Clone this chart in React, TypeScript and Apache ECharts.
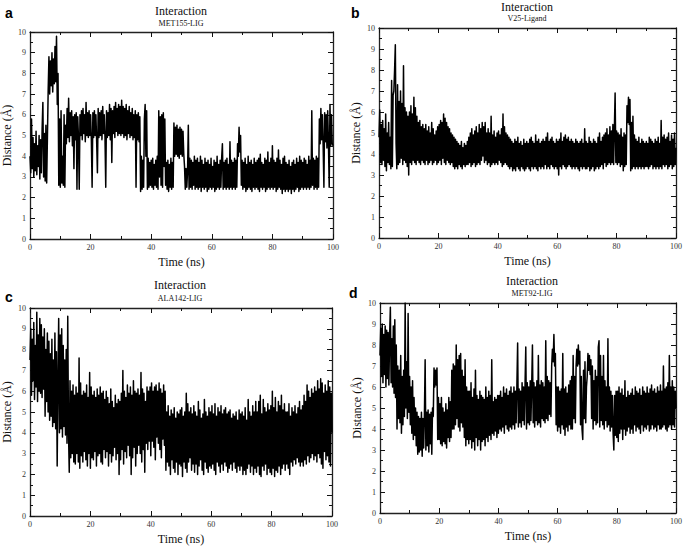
import React, { useEffect, useRef } from "react";
import * as echarts from "echarts";

const timeStep = 0.25;

const met155 = [
  4.0, 3.2, 5.8, 3.4, 4.9, 3.0, 4.6, 3.3, 5.2, 3.1, 4.5, 3.5, 5.0, 2.9, 4.8, 3.2, 5.3, 6.6, 3.0, 5.1,
  2.8, 5.5, 2.7, 4.9, 7.2, 8.8, 7.0, 8.6, 7.4, 9.0, 7.1, 8.7, 7.5, 9.3, 7.6, 9.8, 6.5, 8.0, 2.6, 5.8,
  2.5, 6.2, 2.7, 4.0, 2.6, 6.0, 2.5, 5.5, 4.6, 6.3, 4.9, 6.8, 4.7, 6.1, 5.0, 6.2, 4.5, 5.9, 3.4, 6.0,
  4.8, 6.1, 2.4, 5.9, 4.9, 2.4, 6.0, 5.0, 6.2, 4.8, 6.3, 5.1, 6.0, 4.7, 6.6, 5.0, 6.1, 4.9, 6.2, 5.0,
  6.0, 4.8, 2.5, 6.1, 4.9, 6.2, 5.0, 6.0, 4.7, 3.2, 6.3, 4.9, 6.1, 5.0, 6.2, 4.8, 6.4, 5.1, 6.0, 4.9,
  2.5, 6.2, 4.9, 6.1, 5.0, 6.5, 4.8, 6.3, 3.7, 6.2, 5.1, 6.4, 4.9, 6.6, 5.2, 6.3, 5.0, 6.5, 5.1, 6.4,
  5.0, 6.7, 5.1, 6.4, 4.9, 6.3, 5.0, 6.5, 4.8, 6.2, 5.1, 6.4, 4.9, 6.1, 5.0, 6.3, 4.8, 6.0, 4.9, 6.2,
  2.5, 6.0, 4.8, 6.1, 4.7, 5.9, 2.3, 4.0, 2.4, 3.8, 2.5, 5.8, 6.5, 4.0, 6.2, 2.4, 3.9, 2.5, 3.7, 2.6,
  3.8, 2.5, 3.9, 2.4, 3.6, 2.6, 3.8, 2.5, 4.0, 2.4, 6.2, 3.0, 5.9, 2.6, 6.0, 2.5, 6.1, 3.5, 5.8, 2.6,
  3.7, 2.4, 3.8, 2.3, 3.6, 2.5, 3.9, 2.4, 3.7, 2.5, 5.6, 4.0, 5.4, 4.1, 5.5, 4.0, 5.3, 3.9, 5.4, 4.1,
  5.3, 4.0, 5.2, 4.1, 3.5, 2.4, 3.4, 2.5, 3.3, 5.5, 2.4, 3.9, 2.5, 3.8, 2.4, 3.7, 2.6, 4.0, 2.4, 3.8,
  2.5, 3.9, 2.4, 3.7, 2.5, 4.0, 2.3, 3.8, 2.5, 3.6, 2.4, 3.9, 2.5, 3.7, 2.3, 3.8, 2.4, 3.6, 2.5, 3.9,
  2.4, 3.5, 2.5, 3.8, 2.3, 3.7, 2.4, 4.0, 2.5, 3.6, 2.4, 3.8, 2.5, 3.9, 4.6, 2.4, 3.7, 2.5, 3.8, 2.4,
  3.9, 2.5, 3.6, 2.4, 4.7, 2.5, 3.8, 2.4, 3.7, 2.5, 3.9, 2.4, 3.8, 2.5, 4.6, 4.0, 5.4, 4.2, 5.0, 2.6,
  3.8, 2.4, 3.7, 2.5, 3.9, 2.3, 3.6, 2.4, 4.0, 2.5, 3.7, 2.4, 3.8, 2.3, 3.6, 2.5, 3.9, 2.4, 3.7, 2.5,
  3.8, 2.4, 3.9, 2.3, 4.1, 2.5, 3.7, 2.4, 3.6, 2.5, 3.9, 2.3, 3.8, 2.4, 4.2, 2.5, 3.7, 2.4, 3.9, 2.5,
  4.5, 2.4, 3.8, 2.5, 3.7, 2.3, 3.9, 2.4, 4.3, 2.5, 3.8, 2.4, 3.6, 2.2, 3.9, 2.4, 4.0, 2.3, 3.7, 2.4,
  3.6, 2.3, 3.8, 2.4, 3.5, 2.2, 3.7, 2.4, 3.8, 2.3, 3.6, 2.4, 3.9, 2.5, 3.7, 2.3, 4.0, 2.4, 3.8, 2.5,
  3.7, 2.4, 3.9, 2.5, 3.8, 2.4, 3.6, 2.5, 4.0, 2.4, 3.8, 2.5, 6.2, 2.6, 3.9, 2.4, 3.8, 2.5, 4.0, 2.4,
  3.9, 2.5, 5.8, 4.6, 6.3, 4.8, 6.0, 4.5, 2.5, 6.1, 4.7, 6.0, 4.4, 6.2, 4.6, 2.5, 6.5, 4.5, 6.0, 4.6,
  4.5,
];

const v25 = [
  4.8, 6.1, 3.6, 5.4, 3.5, 5.6, 3.7, 5.2, 3.4, 5.9, 3.2, 5.0, 3.6, 5.5, 3.5, 4.8, 3.3, 7.5, 3.4, 6.8,
  7.0, 8.0, 9.2, 4.5, 3.3, 7.3, 3.5, 6.5, 3.6, 7.0, 3.8, 6.4, 3.5, 8.2, 3.7, 6.2, 3.6, 6.0, 3.4, 5.8,
  3.0, 6.0, 3.6, 6.3, 3.5, 5.9, 3.7, 6.7, 3.6, 6.2, 3.5, 5.8, 3.7, 5.5, 3.6, 5.6, 3.5, 5.3, 3.7, 5.4,
  3.6, 5.2, 3.5, 5.4, 3.7, 5.1, 3.5, 5.3, 3.6, 5.0, 3.7, 5.5, 3.5, 5.2, 3.6, 4.9, 3.7, 5.1, 3.5, 5.3,
  3.6, 5.4, 3.7, 5.6, 3.5, 5.5, 3.8, 5.9, 3.6, 5.7, 3.5, 5.5, 3.7, 5.3, 3.6, 5.2, 3.5, 5.0, 3.6, 4.9,
  3.4, 4.8, 3.3, 4.7, 3.4, 4.6, 3.3, 4.5, 3.5, 4.4, 3.4, 4.6, 3.3, 4.3, 3.5, 4.5, 3.4, 4.4, 3.5, 4.6,
  3.5, 4.8, 3.6, 5.0, 3.4, 5.2, 3.5, 4.9, 3.6, 5.1, 3.4, 5.3, 3.5, 5.0, 3.6, 5.4, 3.5, 5.2, 3.7, 5.5,
  3.9, 5.3, 3.6, 5.5, 3.7, 5.0, 3.5, 5.2, 3.6, 5.0, 3.4, 5.8, 3.5, 4.9, 3.6, 5.1, 3.5, 4.8, 3.6, 5.0,
  3.5, 5.1, 3.7, 4.9, 3.6, 5.2, 3.4, 5.9, 3.5, 5.3, 3.6, 5.0, 3.5, 4.9, 3.4, 4.8, 3.3, 4.7, 3.4, 4.6,
  3.2, 4.5, 3.3, 4.7, 3.2, 4.6, 3.4, 4.8, 3.3, 4.5, 3.2, 4.6, 3.4, 4.4, 3.3, 4.7, 3.2, 4.5, 3.3, 4.6,
  3.4, 4.5, 3.3, 4.7, 3.2, 4.8, 3.4, 4.6, 3.3, 4.5, 3.4, 4.9, 3.3, 4.6, 3.2, 4.7, 3.4, 4.5, 3.3, 4.6,
  3.4, 4.7, 3.3, 4.6, 3.5, 4.8, 3.3, 5.0, 3.4, 4.6, 3.3, 4.7, 3.5, 4.8, 3.4, 4.6, 3.3, 4.5, 3.4, 4.7,
  3.3, 4.6, 3.0, 4.7, 3.4, 5.0, 3.3, 4.6, 3.5, 4.8, 3.4, 4.9, 3.3, 4.7, 3.4, 4.8, 3.5, 4.6, 3.4, 4.7,
  3.3, 4.6, 3.4, 4.5, 3.3, 4.7, 3.4, 4.6, 3.3, 4.5, 3.2, 4.6, 3.4, 4.7, 3.3, 4.5, 3.4, 5.2, 3.3, 4.6,
  3.3, 4.5, 3.4, 4.8, 3.2, 4.6, 3.3, 4.5, 3.4, 4.7, 3.2, 4.6, 3.3, 4.5, 3.4, 4.8, 3.3, 5.0, 3.4, 4.6,
  3.5, 4.8, 3.3, 4.9, 3.6, 5.0, 3.4, 5.2, 3.5, 4.9, 3.6, 5.3, 3.5, 5.1, 3.6, 5.4, 3.5, 5.2, 6.9, 3.6,
  5.1, 3.5, 5.0, 3.6, 4.9, 3.4, 5.2, 3.5, 4.8, 3.2, 5.0, 3.4, 4.9, 3.5, 6.3, 5.5, 6.7, 5.4, 6.6, 3.2,
  5.5, 3.3, 5.8, 3.4, 4.9, 3.3, 4.7, 3.4, 4.6, 3.3, 4.8, 3.4, 4.5, 3.3, 4.7, 3.4, 4.6, 3.3, 4.5, 3.4,
  4.6, 3.4, 4.5, 3.3, 4.8, 3.4, 4.7, 3.5, 4.6, 3.3, 4.5, 3.4, 4.7, 3.3, 4.6, 3.4, 4.8, 3.3, 4.5, 3.4,
  5.6, 3.3, 4.8, 3.5, 4.9, 3.4, 4.7, 3.5, 4.8, 3.3, 5.0, 3.4, 4.6, 3.5, 4.9, 3.3, 4.7, 3.4, 5.0, 3.5,
  4.3,
];

const ala142 = [
  7.5, 9.0, 5.8, 8.5, 6.5, 9.3, 5.6, 8.2, 6.2, 9.8, 5.5, 8.7, 6.0, 9.5, 5.9, 9.2, 5.7, 8.6, 6.1, 9.0,
  4.8, 8.0, 5.5, 8.8, 5.0, 8.4, 4.6, 7.8, 4.8, 8.5, 4.3, 7.5, 4.5, 8.8, 4.2, 7.9, 2.4, 6.5, 9.5, 4.0,
  8.7, 4.2, 9.0, 3.8, 8.2, 4.3, 7.5, 3.9, 8.0, 3.5, 9.6, 4.0, 2.1, 6.5, 2.8, 6.0, 3.0, 6.3, 2.6, 5.8,
  2.5, 6.2, 3.0, 5.9, 2.6, 7.6, 2.3, 6.4, 2.9, 5.8, 2.6, 6.0, 3.1, 5.9, 2.7, 6.3, 2.4, 5.7, 3.0, 6.9,
  2.3, 6.2, 2.8, 5.8, 2.7, 6.0, 3.1, 5.7, 2.4, 6.1, 2.9, 5.8, 3.0, 6.2, 2.6, 5.9, 2.5, 6.0, 3.2, 5.6,
  2.8, 6.0, 3.1, 5.7, 2.4, 5.4, 3.0, 6.1, 2.6, 5.5, 2.9, 5.2, 3.3, 5.8, 2.7, 5.4, 3.0, 5.6, 2.0, 5.5,
  2.7, 5.9, 3.2, 7.0, 2.5, 6.0, 3.1, 5.7, 2.8, 6.3, 3.4, 5.9, 2.9, 6.2, 2.0, 5.8, 2.8, 6.5, 3.3, 6.0,
  2.4, 5.9, 3.0, 6.1, 3.4, 5.8, 3.0, 6.9, 2.6, 6.1, 3.2, 5.9, 2.1, 5.5, 3.5, 6.2, 3.2, 6.0, 3.6, 6.2,
  2.9, 6.4, 3.6, 6.0, 3.3, 6.2, 2.7, 6.3, 3.8, 6.0, 3.5, 6.4, 3.2, 6.1, 2.8, 5.9, 3.7, 6.3, 3.4, 6.0,
  2.2, 5.0, 2.6, 5.3, 2.4, 4.8, 2.0, 5.1, 2.7, 4.9, 2.3, 5.2, 2.1, 4.7, 2.6, 5.0, 2.0, 4.9, 2.5, 5.1,
  2.4, 5.2, 1.9, 4.8, 2.6, 5.0, 2.3, 5.9, 2.1, 5.4, 2.6, 5.0, 2.8, 5.2, 2.2, 4.9, 2.5, 5.3, 2.1, 5.0,
  2.5, 4.8, 2.0, 5.5, 2.4, 5.1, 2.7, 4.7, 2.2, 4.9, 2.0, 5.6, 2.6, 5.0, 2.3, 4.8, 2.1, 5.2, 2.4, 5.0,
  2.3, 5.3, 2.5, 4.9, 2.2, 5.4, 2.0, 4.8, 2.6, 5.2, 2.4, 5.0, 2.1, 5.3, 2.5, 4.9, 2.2, 5.1, 2.6, 5.2,
  2.4, 4.9, 2.1, 5.0, 2.3, 5.1, 2.5, 4.7, 2.2, 4.9, 2.6, 4.8, 2.3, 5.0, 2.1, 4.6, 2.4, 5.1, 2.2, 4.9,
  2.4, 5.0, 2.0, 4.8, 2.2, 5.2, 2.0, 4.6, 2.3, 5.6, 2.5, 5.0, 2.1, 4.8, 2.4, 5.3, 2.0, 5.0, 2.3, 5.5,
  2.1, 5.0, 2.4, 5.5, 2.0, 5.8, 1.9, 4.9, 2.4, 5.6, 2.2, 5.2, 2.5, 5.0, 2.0, 5.4, 2.3, 5.1, 2.1, 5.3,
  2.0, 6.0, 2.3, 5.2, 1.9, 5.7, 2.2, 5.0, 2.1, 5.5, 2.4, 5.3, 2.0, 5.8, 2.3, 5.1, 2.5, 5.4, 2.2, 5.0,
  2.5, 5.0, 2.3, 5.4, 2.0, 4.8, 2.6, 5.2, 2.4, 5.0, 2.7, 5.3, 2.5, 4.9, 2.8, 5.2, 2.6, 5.5, 2.4, 5.1,
  2.6, 5.3, 2.4, 5.8, 2.7, 5.5, 2.5, 6.3, 2.9, 6.0, 2.6, 5.7, 2.8, 6.1, 3.0, 5.9, 2.7, 6.2, 2.9, 6.0,
  2.6, 6.5, 3.0, 6.1, 2.8, 6.6, 2.5, 6.4, 2.3, 5.9, 3.1, 6.3, 2.7, 6.0, 2.9, 6.5, 2.6, 6.2, 2.4, 5.9,
  4.0,
];

const met92 = [
  7.5, 8.8, 6.5, 9.0, 6.2, 8.5, 6.6, 8.9, 6.0, 8.7, 6.4, 8.6, 6.1, 8.4, 9.8, 6.2, 8.3, 6.0, 8.9, 5.7,
  9.2, 5.5, 8.0, 4.0, 7.0, 4.5, 6.8, 4.3, 7.5, 3.8, 6.5, 4.2, 6.8, 4.6, 10.0, 5.0, 7.2, 4.5, 9.5, 4.8,
  6.5, 4.2, 6.0, 3.8, 6.3, 3.5, 5.5, 3.7, 5.0, 3.2, 4.8, 2.8, 4.6, 2.9, 4.5, 3.0, 4.8, 2.7, 4.5, 3.1,
  4.6, 7.3, 3.0, 4.8, 3.2, 4.9, 2.9, 4.7, 3.3, 4.8, 2.8, 5.0, 4.6, 6.9, 6.0, 6.8, 6.1, 6.9, 3.5, 5.5,
  3.5, 5.2, 3.3, 5.5, 3.2, 5.0, 3.4, 4.8, 3.3, 5.2, 3.1, 4.9, 3.6, 5.5, 3.4, 5.3, 3.6, 6.8, 4.0, 7.1,
  4.0, 7.0, 4.2, 8.0, 4.5, 7.3, 4.1, 7.5, 3.9, 7.6, 4.3, 6.8, 4.1, 6.5, 3.6, 7.3, 3.2, 6.0, 3.5, 5.8,
  3.3, 5.8, 3.5, 6.2, 3.1, 5.5, 3.4, 5.9, 3.0, 6.8, 3.6, 5.6, 3.2, 5.4, 3.5, 5.8, 3.0, 5.6, 3.4, 5.5,
  3.5, 5.4, 3.2, 6.0, 3.6, 5.5, 3.4, 5.8, 3.7, 5.6, 3.5, 7.3, 3.8, 5.3, 3.7, 5.5, 3.9, 5.4, 3.6, 5.6,
  3.8, 5.6, 4.0, 5.8, 3.9, 5.5, 4.1, 6.0, 3.8, 5.7, 4.2, 5.9, 4.0, 5.6, 3.9, 5.8, 4.1, 6.0, 4.0, 5.7,
  4.2, 6.0, 4.0, 5.8, 4.3, 6.1, 8.1, 4.1, 5.9, 4.3, 5.8, 4.1, 6.2, 4.4, 6.0, 4.2, 6.1, 7.9, 4.0, 6.2,
  4.3, 6.0, 4.2, 6.3, 4.4, 6.1, 8.0, 4.3, 6.2, 4.1, 6.0, 4.4, 6.3, 4.2, 7.5, 4.3, 6.1, 4.1, 6.3, 4.5,
  6.2, 4.4, 6.0, 4.3, 8.2, 4.5, 6.5, 4.4, 6.3, 4.7, 6.2, 4.6, 7.0, 7.8, 7.2, 8.5, 7.0, 7.6, 4.2, 6.0,
  3.9, 6.0, 4.1, 5.8, 3.8, 5.9, 4.2, 7.6, 4.0, 5.9, 3.7, 6.0, 4.1, 5.7, 3.9, 6.1, 4.2, 6.3, 4.0, 6.5,
  4.0, 7.5, 4.5, 6.5, 4.3, 7.0, 7.8, 7.0, 8.0, 7.1, 7.7, 4.2, 6.5, 4.0, 3.5, 6.8, 4.5, 7.2, 4.3, 6.0,
  6.5, 7.6, 6.8, 7.5, 6.6, 7.3, 4.5, 7.0, 4.0, 6.3, 4.4, 6.8, 4.2, 6.5, 4.3, 7.9, 8.2, 4.1, 7.5, 4.4,
  6.5, 4.2, 7.5, 4.0, 6.3, 4.4, 6.0, 4.1, 8.3, 4.2, 6.0, 3.9, 5.8, 4.1, 5.6, 3.8, 3.0, 5.6, 3.7, 5.8,
  3.6, 5.8, 3.4, 6.0, 3.8, 5.7, 4.0, 5.9, 3.5, 5.6, 4.0, 6.3, 3.7, 5.5, 3.9, 5.8, 4.1, 5.6, 3.8, 5.7,
  4.0, 5.9, 3.8, 5.6, 4.2, 6.0, 3.9, 5.8, 4.1, 5.7, 4.0, 5.9, 3.8, 5.6, 4.2, 6.0, 3.9, 5.8, 4.1, 5.7,
  4.0, 6.0, 4.2, 5.7, 3.9, 5.9, 4.0, 6.1, 4.2, 5.8, 4.0, 5.9, 4.1, 5.7, 3.9, 6.0, 4.2, 5.8, 4.0, 6.1,
  4.0, 5.8, 4.1, 7.0, 4.2, 5.9, 4.0, 6.0, 3.9, 6.2, 4.1, 7.5, 4.2, 6.0, 4.0, 6.3, 4.2, 6.0, 4.1, 5.8,
  5.0,
];

const panelLetters = ["a", "b", "c", "d"];
const panelTitles = ["Interaction", "Interaction", "Interaction", "Interaction"];
const panelSubtitles = ["MET155-LIG", "V25-Ligand", "ALA142-LIG", "MET92-LIG"];
const panelSeries = [met155, v25, ala142, met92];
const xName = "Time (ns)";
const yName = "Distance (Å)";

const grids = [
  { left: 27, top: 32, width: 306, height: 207 },
  { left: 379, top: 28, width: 299, height: 210 },
  { left: 27, top: 308, width: 305, height: 213 },
  { left: 380, top: 303, width: 302, height: 210 },
];
const titlePos = [
  { x: 181, y: 11, sy: 23, lx: 5, ly: 13 },
  { x: 527, y: 7, sy: 18, lx: 351, ly: 13 },
  { x: 180, y: 285, sy: 298, lx: 5, ly: 297 },
  { x: 532, y: 281, sy: 293, lx: 349, ly: 293 },
];

const SERIF = "'Liberation Serif', 'DejaVu Serif', serif";

export default function App() {
  const ref = useRef<HTMLDivElement>(null);
  useEffect(() => {
    if (!ref.current) return;
    const chart = echarts.init(ref.current, null, { renderer: "svg" });
    const xAxes: any[] = [];
    const yAxes: any[] = [];
    const series: any[] = [];
    const graphics: any[] = [];
    const tickStyle = { color: "#111", width: 1 };
    grids.forEach((g, i) => {
      const baseX = {
        type: "value",
        gridIndex: i,
        min: 0,
        max: 100,
        interval: 20,
        axisLine: { show: true, onZero: false, lineStyle: { color: "#222", width: 1.3 } },
        axisTick: { show: true, inside: true, length: 5, lineStyle: tickStyle },
        minorTick: { show: true, splitNumber: 2, length: 3, lineStyle: tickStyle },
        splitLine: { show: false },
      };
      xAxes.push({
        ...baseX,
        position: "bottom",
        name: xName,
        nameLocation: "middle",
        nameGap: 17,
        nameTextStyle: { fontFamily: SERIF, fontSize: 12, color: "#111" },
        axisLabel: { fontFamily: SERIF, fontSize: 8, color: "#333", margin: 4 },
      });
      xAxes.push({ ...baseX, position: "top", axisLabel: { show: false } });
      const baseY = {
        type: "value",
        gridIndex: i,
        min: 0,
        max: 10,
        interval: 1,
        axisLine: { show: true, onZero: false, lineStyle: { color: "#222", width: 1.3 } },
        axisTick: { show: true, inside: true, length: 5, lineStyle: tickStyle },
        minorTick: { show: true, splitNumber: 2, length: 3, lineStyle: tickStyle },
        splitLine: { show: false },
      };
      yAxes.push({
        ...baseY,
        position: "left",
        name: yName,
        nameLocation: "middle",
        nameGap: 17,
        nameTextStyle: { fontFamily: SERIF, fontSize: 12, color: "#111" },
        axisLabel: { fontFamily: SERIF, fontSize: 8, color: "#333", margin: 4 },
      });
      yAxes.push({ ...baseY, position: "right", axisLabel: { show: false } });
      series.push({
        type: "line",
        xAxisIndex: i * 2,
        yAxisIndex: i * 2,
        data: panelSeries[i].map((v, k) => [k * timeStep, v]),
        symbol: "none",
        lineStyle: { color: "#000", width: 1.5, join: "round" },
        z: 1,
      });
      const p = titlePos[i];
      graphics.push({
        type: "text",
        x: p.x,
        y: p.y,
        style: { text: panelTitles[i], font: `12px ${SERIF}`, fill: "#111", align: "center", verticalAlign: "middle" },
      });
      graphics.push({
        type: "text",
        x: p.x,
        y: p.sy,
        style: { text: panelSubtitles[i], font: `8px ${SERIF}`, fill: "#111", align: "center", verticalAlign: "middle" },
      });
      graphics.push({
        type: "text",
        x: p.lx,
        y: p.ly,
        style: { text: panelLetters[i], font: `bold 14px 'Liberation Sans', Arial, sans-serif`, fill: "#000", align: "left", verticalAlign: "middle" },
      });
    });
    chart.setOption({
      animation: false,
      backgroundColor: "#fff",
      grid: grids.map((g) => ({ ...g, containLabel: false })),
      xAxis: xAxes,
      yAxis: yAxes,
      series,
      graphic: graphics,
    });
    return () => chart.dispose();
  }, []);
  return (
    <div
      ref={ref}
      style={{ position: "fixed", left: 0, top: 0, width: 685, height: 546 }}
    />
  );
}
